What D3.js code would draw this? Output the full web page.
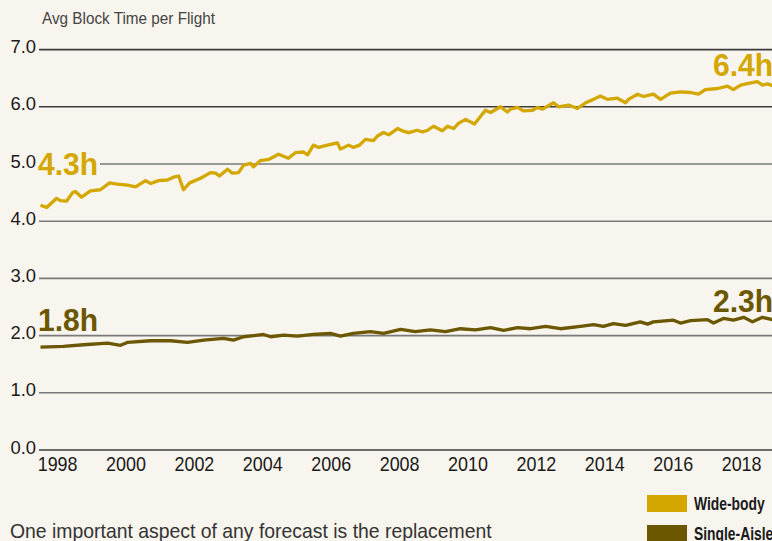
<!DOCTYPE html>
<html>
<head>
<meta charset="utf-8">
<script src="https://cdn.jsdelivr.net/npm/d3@7"></script>
<style>
    html, body { margin: 0; padding: 0; background: #f8f5ee; overflow: hidden; }
    svg { display: block; }
</style>
</head>
<body>
<script>
    // data (decimal year, hours)
    const wideYears = [1998.00, 1998.18, 1998.47, 1998.58, 1998.76, 1998.94, 1999.02, 1999.20, 1999.46, 1999.75,
        2000.02, 2000.25, 2000.54, 2000.78, 2001.07, 2001.22, 2001.45, 2001.71, 2001.89, 2002.04,
        2002.18, 2002.36, 2002.68, 2002.97, 2003.12, 2003.23, 2003.47, 2003.61, 2003.79, 2003.94,
        2004.14, 2004.23, 2004.43, 2004.67, 2004.96, 2005.25, 2005.46, 2005.69, 2005.81, 2005.98,
        2006.13, 2006.39, 2006.68, 2006.77, 2007.01, 2007.15, 2007.33, 2007.50, 2007.74, 2007.85,
        2008.03, 2008.18, 2008.44, 2008.58, 2008.76, 2009.02, 2009.17, 2009.32, 2009.49, 2009.75,
        2009.90, 2010.08, 2010.22, 2010.43, 2010.69, 2011.01, 2011.16, 2011.45, 2011.65, 2011.74,
        2011.95, 2012.12, 2012.39, 2012.53, 2012.68, 2013.00, 2013.15, 2013.44, 2013.70, 2013.94,
        2014.17, 2014.37, 2014.58, 2014.87, 2015.11, 2015.19, 2015.46, 2015.63, 2015.92, 2016.13,
        2016.42, 2016.71, 2017.01, 2017.24, 2017.44, 2017.80, 2018.09, 2018.26, 2018.47, 2018.70,
        2018.96, 2019.11, 2019.26, 2019.40];
    const wideValues = [4.28, 4.24, 4.40, 4.36, 4.35, 4.50, 4.52, 4.42, 4.53, 4.55,
        4.67, 4.65, 4.63, 4.60, 4.71, 4.66, 4.71, 4.72, 4.77, 4.79,
        4.55, 4.67, 4.75, 4.85, 4.84, 4.79, 4.91, 4.84, 4.85, 4.98,
        5.01, 4.95, 5.06, 5.08, 5.17, 5.10, 5.20, 5.21, 5.16, 5.33,
        5.29, 5.33, 5.37, 5.26, 5.33, 5.29, 5.33, 5.43, 5.41, 5.49,
        5.55, 5.51, 5.62, 5.58, 5.55, 5.59, 5.56, 5.59, 5.66, 5.58,
        5.66, 5.62, 5.71, 5.78, 5.70, 5.94, 5.90, 6.00, 5.91, 5.96,
        5.99, 5.93, 5.94, 5.99, 5.96, 6.07, 6.00, 6.03, 5.97, 6.07,
        6.13, 6.19, 6.13, 6.15, 6.07, 6.13, 6.22, 6.18, 6.22, 6.13,
        6.24, 6.26, 6.25, 6.22, 6.30, 6.32, 6.36, 6.30, 6.38, 6.41,
        6.44, 6.38, 6.40, 6.37];

    const singleYears = [1998.00, 1998.67, 1999.26, 1999.96, 2000.34, 2000.54, 2001.22, 2001.80, 2002.30, 2002.77,
        2003.35, 2003.64, 2003.94, 2004.52, 2004.73, 2005.11, 2005.51, 2005.98, 2006.48, 2006.77,
        2007.15, 2007.65, 2008.03, 2008.53, 2008.96, 2009.40, 2009.84, 2010.28, 2010.72, 2011.16,
        2011.54, 2011.95, 2012.33, 2012.77, 2013.20, 2013.79, 2014.17, 2014.46, 2014.75, 2015.11,
        2015.54, 2015.75, 2015.92, 2016.51, 2016.71, 2017.01, 2017.50, 2017.68, 2017.97, 2018.26,
        2018.56, 2018.82, 2019.11, 2019.40];
    const singleValues = [1.80, 1.81, 1.84, 1.87, 1.83, 1.88, 1.91, 1.91, 1.88, 1.92,
        1.95, 1.92, 1.98, 2.02, 1.98, 2.01, 1.99, 2.02, 2.04, 1.99,
        2.04, 2.07, 2.04, 2.11, 2.07, 2.10, 2.07, 2.12, 2.10, 2.14,
        2.09, 2.14, 2.12, 2.16, 2.12, 2.16, 2.19, 2.16, 2.21, 2.18,
        2.24, 2.20, 2.24, 2.27, 2.22, 2.26, 2.28, 2.22, 2.30, 2.27,
        2.32, 2.24, 2.32, 2.28];

    const yTicks = [0, 1, 2, 3, 4, 5, 6, 7];
    const xTicks = [1998, 2000, 2002, 2004, 2006, 2008, 2010, 2012, 2014, 2016, 2018];
    const seriesNames = ["Wide-body", "Single-Aisle"];
    const startLabels = ["4.3h", "1.8h"];
    const endLabels = ["6.4h", "2.3h"];

    const colors = {
        "Wide-body": "#d3a700",
        "Single-Aisle": "#6a5700"
    };

    // label nudges (px above the line end)
    const startLift = [30, 16];
    const endLift = [10, 8];

    const width = 772;
    const height = 541;
    const bg = "#f8f5ee";
    const font = "'Liberation Sans', Arial, sans-serif";

    let svg = d3.select("body")
        .append("svg")
            .attr("width", width)
            .attr("height", height);

    let xScale = d3.scaleLinear()
        .domain([1998, 2019])
        .range([40.5, 40.5 + 21 * 34.2]);

    let yScale = d3.scaleLinear()
        .domain([0, 7])
        .range([450, 49.6]);

    // squeezed text: the original uses a condensed face
    function addText(parent, x, y, txt, size, k, opts) {
        opts = opts || {};
        return parent.append("text")
            .attr("transform", "translate(" + x + "," + y + ") scale(" + k + ",1)")
            .attr("text-anchor", opts.anchor || "start")
            .style("font-family", font)
            .style("font-size", size + "px")
            .style("font-weight", opts.weight || "normal")
            .attr("fill", opts.fill || "#1a1a1a")
            .text(txt);
    }

    // gridlines
    svg.append("g")
        .selectAll("line")
        .data(yTicks)
        .enter()
        .append("line")
            .attr("x1", 39)
            .attr("x2", width)
            .attr("y1", (d) => yScale(d))
            .attr("y2", (d) => yScale(d))
            .attr("stroke", (d) => (d >= 6 || d === 0) ? "#3c3c3c" : "#7a7a7a")
            .attr("stroke-width", 1.6);

    let yAxisG = svg.append("g");
    yTicks.forEach((d) => {
        addText(yAxisG, 36, yScale(d) + 3.5, d.toFixed(1), 19, 0.97, {anchor: "end"});
    });

    let xAxisG = svg.append("g");
    xTicks.forEach((d) => {
        addText(xAxisG, xScale(d + 0.5), 470.5, String(d), 19.5, 0.92, {anchor: "middle"});
    });

    addText(svg, 42, 24, "Avg Block Time per Flight", 17, 0.9, {fill: "#444"});

    let line = d3.line()
        .x((d) => xScale(d[0]))
        .y((d) => yScale(d[1]));

    let series = [
        d3.zip(wideYears, wideValues),
        d3.zip(singleYears, singleValues)
    ];

    series.forEach((pts, i) => {
        let color = colors[seriesNames[i]];
        svg.append("path")
            .datum(pts)
            .attr("fill", "none")
            .attr("stroke", color)
            .attr("stroke-width", 3.3)
            .attr("stroke-linejoin", "round")
            .attr("d", line);
    });

    series.forEach((pts, i) => {
        let color = colors[seriesNames[i]];
        let first = pts[0];
        let last = pts[pts.length - 1];
        valueLabel(startLabels[i], 38, yScale(first[1]) - startLift[i], color);
        valueLabel(endLabels[i], 713, yScale(last[1]) - endLift[i], color);
    });

    function valueLabel(txt, x, y, color) {
        let g = svg.append("g");
        g.append("rect")
            .attr("x", x - 1)
            .attr("y", y - 23)
            .attr("width", 63)
            .attr("height", 24)
            .attr("fill", bg);
        addText(g, x, y, txt, 31, 0.97, {weight: "bold", fill: color});
    }

    // legend
    seriesNames.forEach((name, i) => {
        let g = svg.append("g")
            .attr("transform", "translate(647," + (495 + i * 30) + ")");
        g.append("rect")
            .attr("width", 40)
            .attr("height", 17)
            .attr("fill", colors[name]);
        addText(g, 47, 14.5, name, 18, 0.77, {weight: "bold"});
    });

    addText(svg, 10, 538, "One important aspect of any forecast is the replacement", 20, 0.97, {fill: "#333"});
</script>
</body>
</html>
